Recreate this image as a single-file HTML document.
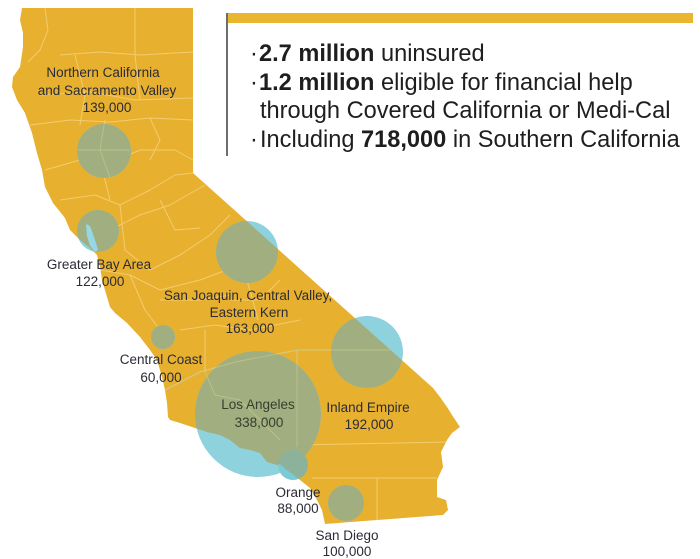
<!DOCTYPE html>
<html>
<head>
<meta charset="utf-8">
<style>
  html,body{margin:0;padding:0;background:#fff;}
  body{width:700px;height:559px;overflow:hidden;position:relative;font-family:"Liberation Sans",Arial,sans-serif;}
  svg{position:absolute;left:0;top:0;}
  .lbl{font-family:"Liberation Sans",Arial,sans-serif;font-size:13.5px;fill:#2b2b35;text-anchor:middle;}
  .lbl2{font-family:"Liberation Sans",Arial,sans-serif;font-size:13.5px;fill:#34402f;text-anchor:middle;}
  .big{font-family:"Liberation Sans",Arial,sans-serif;font-size:23.6px;fill:#1e1e1e;}
</style>
</head>
<body>
<svg width="700" height="559" viewBox="0 0 700 559" xmlns="http://www.w3.org/2000/svg">
  <defs>
    <clipPath id="ca">
      <polygon points="22,8 193,8 193,173 433,388 440,397 447,407 452,415 460,427 452,433 447,440 441,452 443,467 437,480 437,497 446,500 448,510 443,515 325,524 322,510 317,500 310,488 300,480 287,470 280,464 277,465 267,462 260,453 250,450 240,448 230,440 220,435 207,432 195,428 180,423 170,420 168,417 167,403 165,390 162,377 157,360 150,350 140,337 127,323 115,313 110,307 107,297 102,280 100,267 97,255 90,248 80,240 70,230 67,223 65,218 53,203 45,187 42,170 37,153 32,133 25,113 17,100 12,87 13,77 20,67 23,47 23,33 20,20"/>
    </clipPath>
    <clipPath id="bay">
      <circle cx="98" cy="231" r="21"/>
    </clipPath>
  </defs>

  <!-- State fill -->
  <polygon points="22,8 193,8 193,173 433,388 440,397 447,407 452,415 460,427 452,433 447,440 441,452 443,467 437,480 437,497 446,500 448,510 443,515 325,524 322,510 317,500 310,488 300,480 287,470 280,464 277,465 267,462 260,453 250,450 240,448 230,440 220,435 207,432 195,428 180,423 170,420 168,417 167,403 165,390 162,377 157,360 150,350 140,337 127,323 115,313 110,307 107,297 102,280 100,267 97,255 90,248 80,240 70,230 67,223 65,218 53,203 45,187 42,170 37,153 32,133 25,113 17,100 12,87 13,77 20,67 23,47 23,33 20,20" fill="#E8B02F"/>

  <!-- County lines -->
  <g clip-path="url(#ca)" fill="none" stroke="#F4D27C" stroke-width="1" stroke-linejoin="round" opacity="0.85">
    <path d="M45,8 L48,30 L40,50 L28,62"/>
    <path d="M135,8 L135,55"/>
    <path d="M60,55 L100,52 L140,55 L193,52"/>
    <path d="M40,95 L90,92 L135,100 L193,98"/>
    <path d="M75,55 L85,95 L80,125"/>
    <path d="M135,55 L140,100"/>
    <path d="M30,125 L70,120 L110,122 L150,118 L193,120"/>
    <path d="M45,170 L80,160 L105,165 L140,150 L175,150 L193,160"/>
    <path d="M105,120 L100,160 L110,200"/>
    <path d="M150,118 L160,140 L150,160"/>
    <path d="M60,200 L95,195 L120,205 L150,190 L175,175 L193,173"/>
    <path d="M80,240 L110,230 L140,215 L170,205 L205,185"/>
    <path d="M120,205 L125,250 L150,270 L180,255 L210,235 L230,215"/>
    <path d="M160,200 L175,230 L200,228"/>
    <path d="M100,270 L130,275 L160,290 L200,280 L240,265 L275,245"/>
    <path d="M130,275 L145,310 L160,330"/>
    <path d="M160,300 L200,300 L230,295"/>
    <path d="M180,330 L215,325 L250,330 L300,320"/>
    <path d="M165,390 L200,372 L235,362 L298,350 L420,350"/>
    <path d="M205,330 L205,372"/>
    <path d="M297,350 L297,447"/>
    <path d="M298,445 L447,442"/>
    <path d="M312,478 L437,478"/>
    <path d="M377,478 L377,522"/>
    <path d="M230,300 L260,300 L280,280"/>
    <path d="M240,260 L250,290 L258,320"/>
  </g>

  <!-- Circles: outer (over white) -->
  <g fill="#8ED2DE">
    <circle cx="104" cy="151" r="27"/>
    <circle cx="98" cy="231" r="21"/>
    <circle cx="247" cy="252" r="31"/>
    <circle cx="163" cy="337" r="12"/>
    <circle cx="367" cy="352" r="36"/>
    <circle cx="258" cy="414" r="63"/>
    <circle cx="346" cy="503" r="18"/>
  </g>
  <circle cx="293" cy="465" r="15" fill="#7CCAD6"/>
  <!-- Circles: inner (over state) -->
  <g clip-path="url(#ca)">
    <g fill="#A1AE7F">
      <circle cx="104" cy="151" r="27"/>
      <circle cx="98" cy="231" r="21"/>
      <circle cx="247" cy="252" r="31"/>
      <circle cx="163" cy="337" r="12"/>
      <circle cx="367" cy="352" r="36"/>
      <circle cx="258" cy="414" r="63"/>
      <circle cx="346" cy="503" r="18"/>
    </g>
    <circle cx="293" cy="465" r="15" fill="#8DB29B"/>
    <g fill="none" stroke="#C4C98F" stroke-width="1" opacity="0.7">
      <path d="M165,390 L200,372 L235,362 L298,350 L420,350"/>
      <path d="M297,350 L297,447"/>
      <path d="M205,372 L215,395 L240,400 L260,420 L280,440"/>
      <path d="M104,125 L100,150 L110,178"/>
      <path d="M78,150 L130,150"/>
    </g>
  </g>
  <!-- SF bay water, clipped to bay circle -->
  <g clip-path="url(#bay)">
    <polygon points="86,224 90,226 93,234 96,243 98,250 95,252 90,246 87,236" fill="#95D8E3"/>
  </g>

  <!-- Map labels -->
  <text class="lbl" x="103" y="77">Northern California</text>
  <text class="lbl" x="107" y="95">and Sacramento Valley</text>
  <text class="lbl" x="107" y="112">139,000</text>

  <text class="lbl" x="99" y="269">Greater Bay Area</text>
  <text class="lbl" x="100" y="286">122,000</text>

  <text class="lbl" x="248" y="300">San Joaquin, Central Valley,</text>
  <text class="lbl" x="249" y="317">Eastern Kern</text>
  <text class="lbl" x="250" y="333">163,000</text>

  <text class="lbl" x="161" y="364">Central Coast</text>
  <text class="lbl" x="161" y="382">60,000</text>

  <text class="lbl2" x="258" y="409">Los Angeles</text>
  <text class="lbl2" x="259" y="427">338,000</text>

  <text class="lbl" x="368" y="412">Inland Empire</text>
  <text class="lbl" x="369" y="429">192,000</text>

  <text class="lbl" x="298" y="497">Orange</text>
  <text class="lbl" x="298" y="513">88,000</text>

  <text class="lbl" x="347" y="540">San Diego</text>
  <text class="lbl" x="347" y="556">100,000</text>

  <!-- Info box -->
  <rect x="227" y="13" width="466" height="10" fill="#E9B630"/>
  <rect x="226" y="13" width="2" height="143" fill="#6e6e6e"/>

  <text class="big" x="250" y="61">·</text>
  <text class="big" x="259" y="61"><tspan font-weight="bold">2.7 million</tspan> uninsured</text>
  <text class="big" x="250" y="90">·</text>
  <text class="big" x="259" y="90"><tspan font-weight="bold">1.2 million</tspan> eligible for financial help</text>
  <text class="big" x="260" y="118">through Covered California or Medi-Cal</text>
  <text class="big" x="250" y="147">·</text>
  <text class="big" x="260" y="147">Including <tspan font-weight="bold">718,000</tspan> in Southern California</text>
</svg>
</body>
</html>
